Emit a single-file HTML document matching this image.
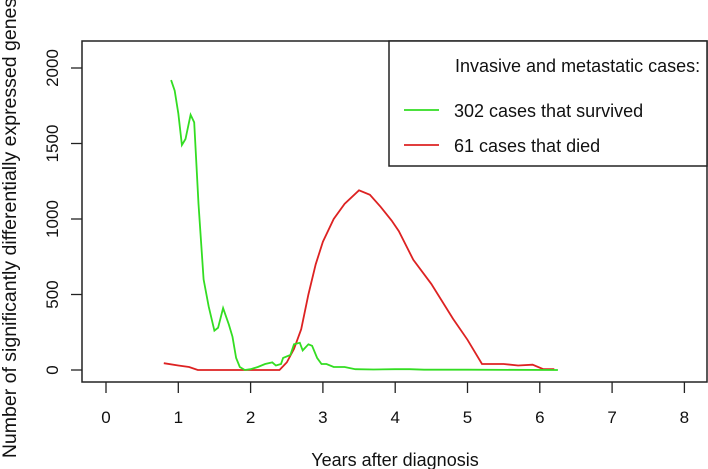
<!DOCTYPE html>
<html><head><meta charset="utf-8"><style>
body{margin:0;background:#fff;}
svg{display:block;font-family:"Liberation Sans",Arial,sans-serif;}
</style></head><body>
<svg id="c" width="708" height="469"></svg>
<script>
const xTicks=[0,1,2,3,4,5,6,7,8];
const yTicks=[0,500,1000,1500,2000];
const survivedX=[0.9,0.95,1.0,1.05,1.1,1.17,1.22,1.28,1.35,1.42,1.5,1.55,1.62,1.7,1.75,1.8,1.85,1.92,2.0,2.1,2.2,2.3,2.35,2.42,2.45,2.55,2.6,2.68,2.72,2.8,2.85,2.92,2.98,3.05,3.15,3.3,3.45,3.7,4.0,4.2,4.4,5.0,6.25];
const survivedY=[1920,1850,1700,1490,1530,1690,1640,1100,600,420,260,280,410,300,220,80,20,0,5,20,40,50,30,40,80,100,170,180,130,170,160,80,40,40,20,20,5,3,5,5,2,2,0];
const diedX=[0.8,1.0,1.15,1.27,2.4,2.5,2.6,2.7,2.8,2.9,3.0,3.15,3.3,3.5,3.65,3.8,3.95,4.05,4.25,4.5,4.8,5.0,5.2,5.5,5.7,5.9,6.05,6.2];
const diedY=[45,30,20,0,0,50,140,270,500,700,850,1000,1100,1190,1160,1080,990,920,730,570,340,200,40,40,30,35,5,5];
const NS="http://www.w3.org/2000/svg";
const svg=document.getElementById('c');
const X=v=>106+v*72.3, Y=v=>370-v*0.151;
function el(t,a,txt){const e=document.createElementNS(NS,t);for(const k in a)e.setAttribute(k,a[k]);if(txt!==undefined)e.textContent=txt;svg.appendChild(e);return e;}
let e=el('rect',{x:82,y:41,width:625,height:341,fill:'none',stroke:'#222','stroke-width':1.5});


xTicks.forEach(t=>{
 let l=el('line',{x1:X(t),x2:X(t),y1:382,y2:393,stroke:'#222','stroke-width':1.3});
 
 
 let s=el('text',{x:X(t),y:423,'text-anchor':'middle','font-size':17,fill:'#111'},t);
 
 
});
yTicks.forEach(t=>{
 let l=el('line',{x1:71,x2:82,y1:Y(t),y2:Y(t),stroke:'#222','stroke-width':1.3});
 
 
 let s=el('text',{x:0,y:0,'text-anchor':'middle','font-size':17,fill:'#111',transform:`translate(58,${Y(t)}) rotate(-90)`},t);
 
 
});
e=el('text',{x:395,y:466,'text-anchor':'middle','font-size':18,fill:'#111'},'Years after diagnosis');


e=el('text',{x:0,y:0,'text-anchor':'middle','font-size':19.5,fill:'#111',transform:'translate(16,228) rotate(-90)'},'Number of significantly differentially expressed genes');


function pts(xs,ys){return xs.map((x,i)=>X(x).toFixed(1)+','+Y(ys[i]).toFixed(1)).join(' ');}
e=el('polyline',{points:pts(diedX,diedY),fill:'none',stroke:'#dd2222','stroke-width':1.8});


e=el('polyline',{points:pts(survivedX,survivedY),fill:'none',stroke:'#33dd22','stroke-width':1.8});


e=el('rect',{x:389,y:41,width:318,height:125,fill:'#fff',stroke:'#222','stroke-width':1.5});


e=el('text',{x:455,y:72,'font-size':18,fill:'#111'},'Invasive and metastatic cases:');


e=el('line',{x1:404,x2:439,y1:110,y2:110,stroke:'#33dd22','stroke-width':1.8});


e=el('text',{x:454,y:117,'font-size':18,fill:'#111'},'302 cases that survived');


e=el('line',{x1:404,x2:439,y1:145,y2:145,stroke:'#dd2222','stroke-width':1.8});


e=el('text',{x:454,y:152,'font-size':18,fill:'#111'},'61 cases that died');


</script>
</body></html>
